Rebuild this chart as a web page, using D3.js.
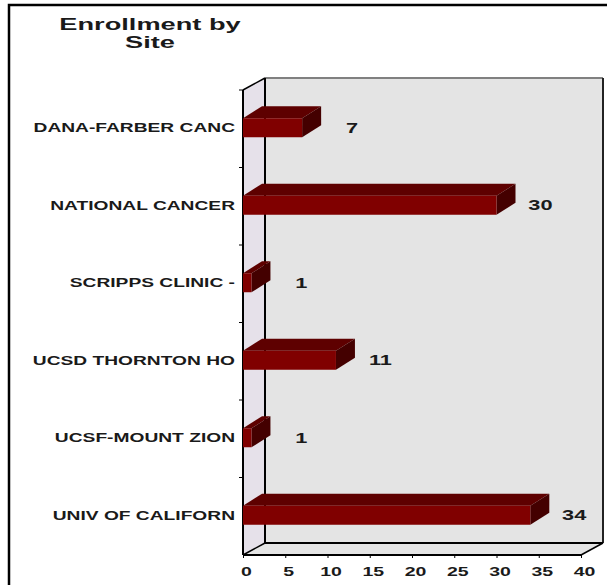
<!DOCTYPE html>
<html>
<head>
<meta charset="utf-8">
<script src="https://cdn.jsdelivr.net/npm/d3@7"></script>
<style>
    body { margin: 0; background: #fff; }
    text { font-family: "Liberation Sans", Arial, sans-serif; font-weight: bold; fill: #1a1a1a; }
</style>
</head>
<body>
<script>
const sites = ["DANA-FARBER CANC", "NATIONAL CANCER", "SCRIPPS CLINIC -", "UCSD THORNTON HO", "UCSF-MOUNT ZION", "UNIV OF CALIFORN"];
const enrollment = [7, 30, 1, 11, 1, 34];
const xTicks = [0, 5, 10, 15, 20, 25, 30, 35, 40];
const titleLines = ["Enrollment by", "Site"];

let width = 607, height = 585;
// depth of the walls and of the bars
let wdx = 22, wdy = -12;
let bdx = 19, bdy = -12;
let barH = 19;

var svg = d3.select("body")
            .append("svg")
            .attr("width", width)
            .attr("height", height);

var xScale = d3.scaleLinear()
            .domain([0, 40])
            .range([243, 581]);

var yScale = d3.scaleBand()
            .domain(sites)
            .range([90, 555]);

function txt(str, x, y, size, sx, anchor) {
    return svg.append("text")
        .attr("transform", `translate(${x},${y}) scale(${sx},1)`)
        .attr("text-anchor", anchor)
        .style("font-size", size + "px")
        .text(str);
}

function poly(pts, fill) {
    return svg.append("polygon")
        .attr("points", pts.map((p) => p.join(",")).join(" "))
        .attr("fill", fill);
}

function line(x1, y1, x2, y2, color, w) {
    svg.append("line")
        .attr("x1", x1).attr("y1", y1)
        .attr("x2", x2).attr("y2", y2)
        .style("stroke", color)
        .style("stroke-width", w);
}

// outer frame
svg.append("rect")
    .attr("x", 9).attr("y", 5)
    .attr("width", 640).attr("height", 640)
    .attr("fill", "none")
    .style("stroke", "#000")
    .style("stroke-width", 2.5);

// title
titleLines.forEach((t, i) => txt(t, 150, 30 + i * 18, 17, 1.6, "middle"));

let [x0, x1] = xScale.range();
let [y0, y1] = yScale.range();

// walls
poly([[x0, y0], [x0 + wdx, y0 + wdy], [x0 + wdx, y1 + wdy], [x0, y1]], "#e6e1ea");
poly([[x0 + wdx, y0 + wdy], [x1 + wdx, y0 + wdy], [x1 + wdx, y1 + wdy], [x0 + wdx, y1 + wdy]], "#e4e4e4");
poly([[x0, y1], [x0 + wdx, y1 + wdy], [x1 + wdx, y1 + wdy], [x1, y1]], "#e4e4e4");

line(x0 + wdx, y0 + wdy, x1 + wdx, y0 + wdy, "#808080", 2);
line(x1 + wdx, y0 + wdy, x1 + wdx, y1 + wdy, "#222", 2);
line(x0, y0, x0, y1, "#000", 2);
line(x0 + wdx, y0 + wdy, x0 + wdx, y1 + wdy, "#000", 2);
line(x0, y0, x0 + wdx, y0 + wdy, "#000", 1.5);
line(x0, y1, x0 + wdx, y1 + wdy, "#000", 1.5);
line(x0 + wdx, y1 + wdy, x1 + wdx, y1 + wdy, "#000", 2);
line(x0, y1, x1, y1, "#000", 2);
line(x1, y1, x1 + wdx, y1 + wdy, "#000", 1.5);

// category ticks at band edges
sites.forEach((s) => line(x0 - 4, yScale(s), x0, yScale(s), "#000", 1));

// bars
sites.forEach((s, i) => {
    let v = enrollment[i];
    let top = yScale(s) + yScale.bandwidth() / 2 - 1 - barH / 2;
    let xe = xScale(v);
    poly([[x0, top], [x0 + bdx, top + bdy], [xe + bdx, top + bdy], [xe, top]], "#5e0000");
    poly([[xe, top], [xe + bdx, top + bdy], [xe + bdx, top + barH + bdy], [xe, top + barH]], "#440000");
    svg.append("rect")
        .attr("x", x0)
        .attr("y", top)
        .attr("width", xe - x0)
        .attr("height", barH)
        .attr("fill", "#800000");
    txt(v, xe + bdx + 37, top + barH / 2 + 5, 14.5, 1.5, "end");
    txt(s, 235, top + barH / 2 + 4.5, 12, 1.6, "end");
});

// x axis
var xAxis = d3.axisBottom()
            .scale(xScale)
            .tickValues(xTicks)
            .tickSize(3)
            .tickPadding(9);

var gx = svg.append("g")
   .attr("transform", `translate(0, ${y1})`)
   .call(xAxis);
gx.select(".domain").remove();
gx.selectAll("text")
   .attr("x", 2)
   .attr("transform", "scale(1.5,1)")
   .style("font-size", "13px")
   .style("font-family", null);
</script>
</body>
</html>
